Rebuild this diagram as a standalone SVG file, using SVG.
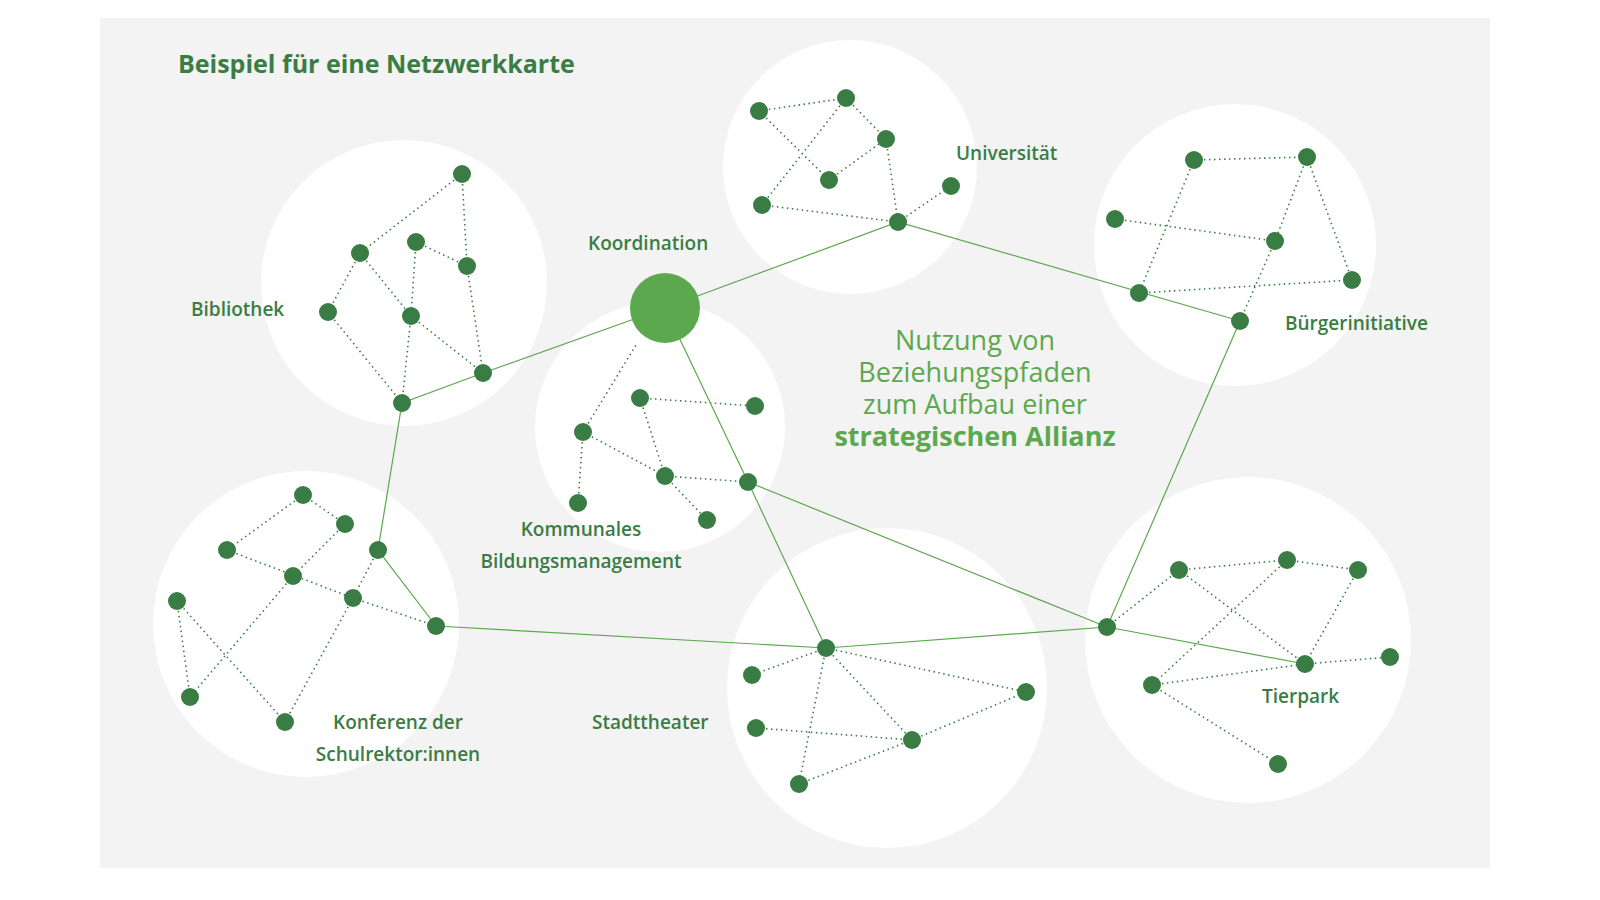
<svg xmlns="http://www.w3.org/2000/svg" width="1600" height="900" viewBox="0 0 1600 900">
<style>
.c{fill:#fff}
.n{fill:#3a7d44}
.d{stroke:#3a7d44;stroke-width:1.6;stroke-dasharray:1.5 3.5;fill:none}
.s{stroke:#5ca84e;stroke-width:1.2;fill:none}
.l{font-family:"Open Sans",Lato,sans-serif;font-weight:600;font-size:19px;fill:#3a7d44}
.m{font-family:"Open Sans",Lato,sans-serif;font-size:27px;fill:#5ca84e;text-anchor:middle}
</style>
<rect width="1600" height="900" fill="#fff"/>
<rect x="100" y="18" width="1390" height="850" fill="#f3f3f3"/>
<g id="circles">
<circle class="c" cx="850" cy="167" r="127"/>
<circle class="c" cx="404" cy="283" r="143"/>
<circle class="c" cx="660" cy="427" r="125"/>
<circle class="c" cx="1235" cy="245" r="141"/>
<circle class="c" cx="306" cy="624" r="153"/>
<circle class="c" cx="887" cy="688" r="160"/>
<circle class="c" cx="1248" cy="640" r="163"/>
</g>
<text class="l" x="178" y="73" style="font-size:25px;font-weight:700">Beispiel für eine Netzwerkkarte</text>
<g id="connectors">
<path class="d" d="M759,111L846,98M846,98L886,139M759,111L829,180M846,98L762,205M829,180L886,139M886,139L898,222M762,205L898,222M898,222L951,186"/>
<path class="d" d="M462,174L360,253M462,174L467,266M416,242L467,266M360,253L328,312M360,253L411,316M416,242L411,316M411,316L483,373M467,266L483,373M328,312L402,403M411,316L402,403"/>
<path class="d" d="M640,398L755,406M640,398L665,476M583,432L665,476M665,476L748,482M665,476L707,520M583,432L578,503M583,432L636,345"/>
<path class="d" d="M1194,160L1307,157M1194,160L1139,293M1115,219L1275,241M1307,157L1275,241M1307,157L1352,280M1139,293L1352,280M1275,241L1240,321"/>
<path class="d" d="M303,495L227,550M303,495L345,524M227,550L353,598M345,524L293,576M293,576L190,697M353,598L436,626M378,550L353,598M353,598L285,722M177,601L190,697M177,601L285,722"/>
<path class="d" d="M826,648L752,675M826,648L1026,692M826,648L912,740M826,648L799,784M756,728L912,740M912,740L1026,692M799,784L912,740"/>
<path class="d" d="M1179,570L1287,560M1287,560L1358,570M1179,570L1305,664M1287,560L1152,685M1358,570L1305,664M1305,664L1390,657M1152,685L1305,664M1152,685L1278,764M1107,627L1179,570"/>
<path class="s" d="M665,308L898,222L1240,321M665,308L483,373L402,403L378,550L436,626L826,648L1107,627L1240,321M665,308L748,482L826,648M748,482L1107,627L1305,664"/>
</g>
<g id="nodes">
<circle cx="665" cy="308" r="35" fill="#5ca84e"/>
<g class="n">
<circle cx="759" cy="111" r="9"/><circle cx="846" cy="98" r="9"/><circle cx="886" cy="139" r="9"/><circle cx="829" cy="180" r="9"/><circle cx="762" cy="205" r="9"/><circle cx="898" cy="222" r="9"/><circle cx="951" cy="186" r="9"/>
<circle cx="462" cy="174" r="9"/><circle cx="360" cy="253" r="9"/><circle cx="416" cy="242" r="9"/><circle cx="467" cy="266" r="9"/><circle cx="328" cy="312" r="9"/><circle cx="411" cy="316" r="9"/><circle cx="483" cy="373" r="9"/><circle cx="402" cy="403" r="9"/>
<circle cx="640" cy="398" r="9"/><circle cx="755" cy="406" r="9"/><circle cx="583" cy="432" r="9"/><circle cx="665" cy="476" r="9"/><circle cx="748" cy="482" r="9"/><circle cx="578" cy="503" r="9"/><circle cx="707" cy="520" r="9"/>
<circle cx="1194" cy="160" r="9"/><circle cx="1307" cy="157" r="9"/><circle cx="1115" cy="219" r="9"/><circle cx="1275" cy="241" r="9"/><circle cx="1352" cy="280" r="9"/><circle cx="1139" cy="293" r="9"/><circle cx="1240" cy="321" r="9"/>
<circle cx="303" cy="495" r="9"/><circle cx="345" cy="524" r="9"/><circle cx="227" cy="550" r="9"/><circle cx="378" cy="550" r="9"/><circle cx="293" cy="576" r="9"/><circle cx="353" cy="598" r="9"/><circle cx="436" cy="626" r="9"/><circle cx="177" cy="601" r="9"/><circle cx="190" cy="697" r="9"/><circle cx="285" cy="722" r="9"/>
<circle cx="826" cy="648" r="9"/><circle cx="752" cy="675" r="9"/><circle cx="1026" cy="692" r="9"/><circle cx="756" cy="728" r="9"/><circle cx="912" cy="740" r="9"/><circle cx="799" cy="784" r="9"/>
<circle cx="1107" cy="627" r="9"/><circle cx="1179" cy="570" r="9"/><circle cx="1287" cy="560" r="9"/><circle cx="1358" cy="570" r="9"/><circle cx="1305" cy="664" r="9"/><circle cx="1390" cy="657" r="9"/><circle cx="1152" cy="685" r="9"/><circle cx="1278" cy="764" r="9"/>
</g>
</g>
<g id="labels">
<text class="l" x="956" y="160">Universität</text>
<text class="l" x="588" y="250">Koordination</text>
<text class="l" x="191" y="316">Bibliothek</text>
<text class="l" x="1285" y="330">Bürgerinitiative</text>
<text class="l" x="581" y="536" text-anchor="middle">Kommunales</text>
<text class="l" x="581" y="568" text-anchor="middle">Bildungsmanagement</text>
<text class="l" x="398" y="729" text-anchor="middle">Konferenz der</text>
<text class="l" x="398" y="761" text-anchor="middle">Schulrektor:innen</text>
<text class="l" x="592" y="729">Stadttheater</text>
<text class="l" x="1262" y="703">Tierpark</text>
<text class="m" x="975" y="350">Nutzung von</text>
<text class="m" x="975" y="382">Beziehungspfaden</text>
<text class="m" x="975" y="414">zum Aufbau einer</text>
<text class="m" x="975" y="446" font-weight="700">strategischen Allianz</text>
</g>
</svg>
